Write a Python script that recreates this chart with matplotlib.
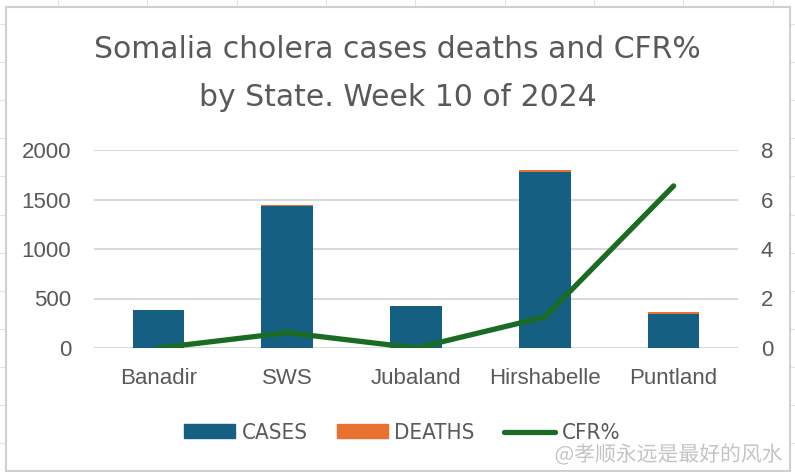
import numpy as np
import matplotlib.pyplot as plt
import matplotlib.patheffects as pe
from matplotlib.lines import Line2D
from matplotlib.patches import Patch, Rectangle

states = ["Banadir", "SWS", "Jubaland", "Hirshabelle", "Puntland"]
cases = [382, 1433, 424, 1778, 343]
deaths = [0, 9, 0, 22, 24]
cfr = [0, 0.62, 0, 1.25, 6.55]

BLUE = "#156082"
ORANGE = "#E97132"
GREEN = "#1B6B25"
TXT = "#595959"
GRID = "#D9D9D9"
SANS = ["Liberation Sans", "DejaVu Sans"]

W, H = 795, 472
fig = plt.figure(figsize=(W / 100, H / 100), dpi=100)
fig.patch.set_facecolor("white")

# cuadrícula de la hoja detrás del gráfico
for gx in np.arange(58, W, 89.35):
    fig.add_artist(Line2D([gx / W, gx / W], [0, 1], color="#E3E3E3", lw=0.8, zorder=-3))
for gy in np.arange(24, H, 38.1):
    fig.add_artist(Line2D([0, 1], [1 - gy / H, 1 - gy / H], color="#E3E3E3", lw=0.8, zorder=-3))
fig.add_artist(Rectangle((6 / W, 1 / H), 784 / W, 464 / H, transform=fig.transFigure,
                         facecolor="white", edgecolor="#D0D0D0", lw=1.5, zorder=-1))

ax = fig.add_axes([94 / W, 124 / H, 644 / W, 198 / H])
ax.patch.set_alpha(0)
x = np.arange(len(states))
ax.bar(x, cases, width=0.4, color=BLUE, zorder=2)
ax.bar(x, deaths, width=0.4, bottom=cases, color=ORANGE, zorder=2)
ax.set_xlim(-0.5, 4.5)
ax.set_ylim(0, 2000)
ax.set_yticks([0, 500, 1000, 1500, 2000])
ax.set_xticks(x)
ax.set_xticklabels(states)
ax.grid(axis="y", color=GRID, lw=1.5, zorder=0)
for s in ax.spines.values():
    s.set_visible(False)
ax.tick_params(length=0, labelsize=16, colors=TXT, pad=16.5)
ax.tick_params(axis="x", pad=14.5)

ax2 = ax.twinx()
ax2.plot(x, cfr, color=GREEN, lw=3.8, solid_capstyle="round", solid_joinstyle="round", zorder=3)
ax2.set_ylim(0, 8)
ax2.set_yticks([0, 2, 4, 6, 8])
for s in ax2.spines.values():
    s.set_visible(False)
ax2.tick_params(length=0, labelsize=16, colors=TXT, pad=16.5)

for t in ax.get_xticklabels() + ax.get_yticklabels() + ax2.get_yticklabels():
    t.set_family(SANS)

fig.text(0.5, 1 - 49 / H, "Somalia cholera cases deaths and CFR%", ha="center", va="center",
         fontsize=21.5, color=TXT, family=["DejaVu Sans"])
fig.text(0.5, 1 - 97 / H, "by State. Week 10 of 2024", ha="center", va="center",
         fontsize=21.5, color=TXT, family=["DejaVu Sans"])

handles = [Patch(color=BLUE, label="CASES"), Patch(color=ORANGE, label="DEATHS"),
           Line2D([], [], color=GREEN, lw=3.8, solid_capstyle="round", label="CFR%")]
leg = fig.legend(handles=handles, loc="center", bbox_to_anchor=(402 / W, 1 - 433 / H), ncol=3,
                 frameon=False, fontsize=16, handlelength=2.3, handleheight=0.55,
                 handletextpad=0.3, columnspacing=1.3)
for t in leg.get_texts():
    t.set_color(TXT)
    t.set_family(["DejaVu Sans"])
    t.set_fontstretch("condensed")

wm = fig.text(783 / W, 1 - 455 / H, "@孝顺永远是最好的风水", ha="right", va="center", fontsize=15,
              color="#C4C4C4", family=["Noto Sans CJK SC", "DejaVu Sans"])
wm.set_path_effects([pe.withStroke(linewidth=3, foreground="white")])

fig.savefig("out.png", dpi=100)
